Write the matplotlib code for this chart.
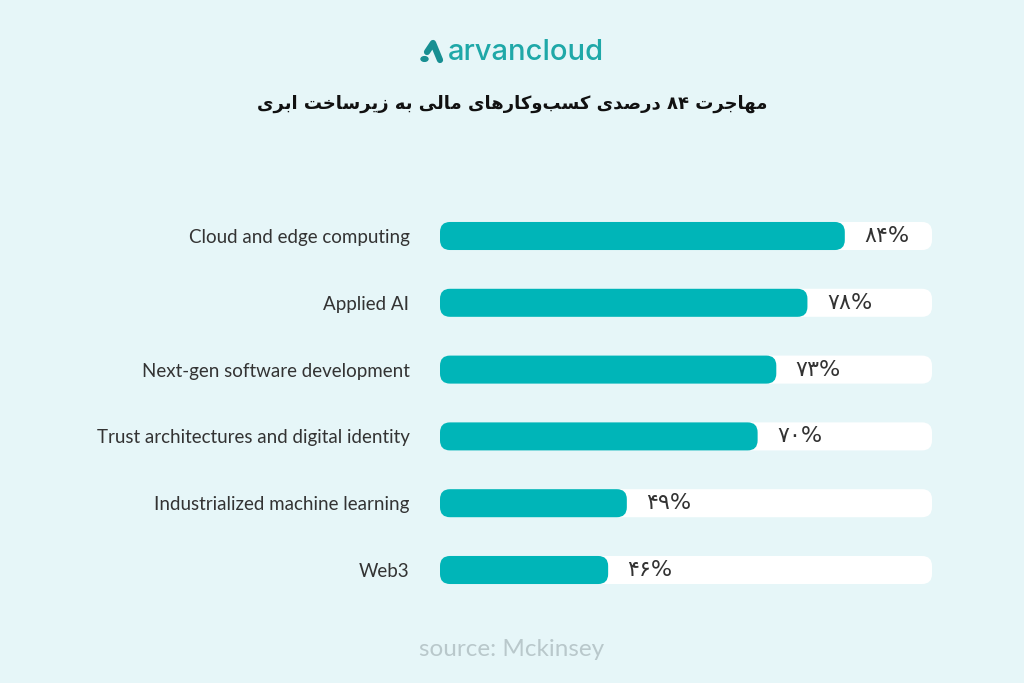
import re
import matplotlib.pyplot as plt
from matplotlib.patches import FancyBboxPatch, Circle
from matplotlib.lines import Line2D

categories = ['Cloud and edge computing', 'Applied AI', 'Next-gen software development',
              'Trust architectures and digital identity', 'Industrialized machine learning', 'Web3']
values = [84, 78, 73, 70, 49, 46]
title = 'مهاجرت ۸۴ درصدی کسب\u200cوکارهای مالی به زیرساخت ابری'
source = 'source: Mckinsey'

BG = '#e6f6f8'
TEAL = '#00b5b8'

# tiny arabic shaper (matplotlib draws no joining / rtl on its own)
FORMS = {
    'ا': ('\uFE8D', '\uFE8E', None, None),
    'ب': ('\uFE8F', '\uFE90', '\uFE91', '\uFE92'),
    'ت': ('\uFE95', '\uFE96', '\uFE97', '\uFE98'),
    'ج': ('\uFE9D', '\uFE9E', '\uFE9F', '\uFEA0'),
    'خ': ('\uFEA5', '\uFEA6', '\uFEA7', '\uFEA8'),
    'د': ('\uFEA9', '\uFEAA', None, None),
    'ر': ('\uFEAD', '\uFEAE', None, None),
    'ز': ('\uFEAF', '\uFEB0', None, None),
    'س': ('\uFEB1', '\uFEB2', '\uFEB3', '\uFEB4'),
    'ص': ('\uFEB9', '\uFEBA', '\uFEBB', '\uFEBC'),
    'ل': ('\uFEDD', '\uFEDE', '\uFEDF', '\uFEE0'),
    'م': ('\uFEE1', '\uFEE2', '\uFEE3', '\uFEE4'),
    'ه': ('\uFEE9', '\uFEEA', '\uFEEB', '\uFEEC'),
    'و': ('\uFEED', '\uFEEE', None, None),
    'ی': ('\uFBFC', '\uFBFD', '\uFBFE', '\uFBFF'),
    'ک': ('\uFB8E', '\uFB8F', '\uFB90', '\uFB91'),
}


def shape(s):
    out = []
    for i, ch in enumerate(s):
        if ch not in FORMS:
            out.append(ch)
            continue
        prev = s[i - 1] if i > 0 else ''
        nxt = s[i + 1] if i + 1 < len(s) else ''
        jp = prev in FORMS and FORMS[prev][2] is not None
        jn = FORMS[ch][2] is not None and nxt in FORMS
        iso, fin, ini, med = FORMS[ch]
        out.append(med if jp and jn else fin if jp else ini if jn else iso)
    text = ''.join(out).replace('\u200c', '')
    runs = re.findall(r'[\u06f0-\u06f9]+|[^\u06f0-\u06f9]+', text)
    return ''.join(r if r[0] in '۰۱۲۳۴۵۶۷۸۹' else r[::-1] for r in reversed(runs))


def fa_num(v):
    return str(v).translate(str.maketrans('0123456789', '۰۱۲۳۴۵۶۷۸۹'))


W, H = 1024, 683
fig = plt.figure(figsize=(W / 100, H / 100), dpi=100, facecolor=BG)

# axes spans the white tracks (px 440..932), rows at y 236..570
x0, x1 = 19, 98
ax = fig.add_axes([440 / W, 1 - 603.4 / H, 492 / W, 400.8 / H])
ax.set_facecolor(BG)
ax.set_xlim(x0, x1)
ax.set_ylim(len(values) - 0.5, -0.5)
for s in ax.spines.values():
    s.set_visible(False)
ax.set_xticks([])
ax.set_yticks(range(len(categories)), categories, fontsize=13.5, family='Lato', color='#333333')
ax.tick_params(axis='y', length=0, pad=22)

bh = 0.42
px_x = (x1 - x0) / 492
px_y = len(values) / 400.8
aspect = px_y / px_x
r = 10 * px_x
for i, v in enumerate(values):
    ax.add_patch(FancyBboxPatch((x0, i - bh / 2), x1 - x0, bh,
                                boxstyle=f'round,pad=0,rounding_size={r}',
                                mutation_aspect=aspect, fc='white', ec='none'))
    ax.add_patch(FancyBboxPatch((x0, i - bh / 2), v - x0, bh,
                                boxstyle=f'round,pad=0,rounding_size={r}',
                                mutation_aspect=aspect, fc=TEAL, ec='none'))
    ax.annotate(fa_num(v) + '%', (v, i), xytext=(14, 0), textcoords='offset points',
                va='center', ha='left', fontsize=16, color='#333333', family='DejaVu Sans')

# logo
fig.text(448 / W, 1 - 52 / H, 'arvancloud', fontsize=21, family='Inter', color='#1fa8a8',
         va='center', ha='left', weight='medium')
fig.add_artist(Line2D([427 / W, 433 / W, 440 / W], [1 - 52 / H, 1 - 43 / H, 1 - 60 / H],
                      lw=4.5, color='#178f92', solid_capstyle='round', solid_joinstyle='round'))
fig.add_artist(Circle((424.5 / W, 1 - 59 / H), 3.5 / W, color='#178f92', transform=fig.transFigure))

fig.text(0.5, 1 - 104 / H, shape(title), fontsize=13, family='DejaVu Sans', weight='bold',
         color='#111111', ha='center', va='center')
fig.text(0.5, 1 - 650 / H, source, fontsize=17.5, family='Lato', color='#b9c8cb',
         ha='center', va='center')

fig.savefig('out.png', dpi=100, facecolor=BG)
